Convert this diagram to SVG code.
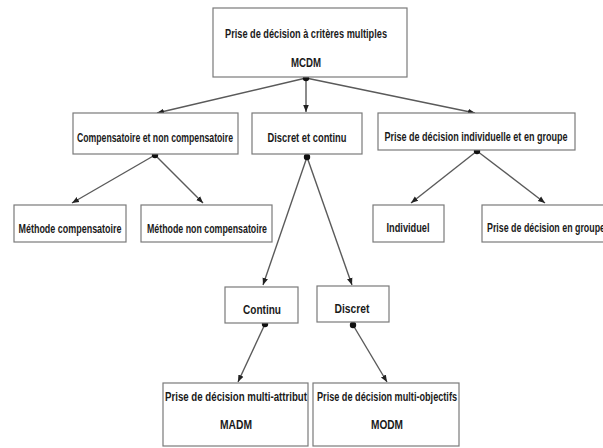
<svg xmlns="http://www.w3.org/2000/svg" width="603" height="448" viewBox="0 0 603 448">
  <style>
    .box { fill: #ffffff; stroke: #7a7a7a; stroke-width: 1.2; }
    .lbl { font-family: "Liberation Sans", "DejaVu Sans", sans-serif; font-size: 13px; font-weight: bold; fill: #1a1a1a; text-anchor: middle; }
    .lbl-start { text-anchor: start; }
    .edge { stroke: #5a5a5a; stroke-width: 1.4; fill: none; marker-end: url(#arrow); }
    .dot { fill: #111111; }
  </style>
  <defs>
    <marker id="arrow" viewBox="0 0 10 10" refX="10" refY="5" markerWidth="7" markerHeight="7" markerUnits="userSpaceOnUse" orient="auto">
      <path d="M0,1 L10,5 L0,9 Z" fill="#222222"/>
    </marker>
  </defs>
  <rect width="603" height="448" fill="#ffffff"/>

  <g id="connectors">
    <line class="edge" x1="306" y1="78" x2="157" y2="113"/>
    <line class="edge" x1="306" y1="78" x2="306" y2="112"/>
    <line class="edge" x1="306" y1="78" x2="475" y2="113"/>
    <line class="edge" x1="155" y1="155" x2="72" y2="203"/>
    <line class="edge" x1="155" y1="155" x2="203" y2="203"/>
    <line class="edge" x1="477" y1="151" x2="411" y2="203"/>
    <line class="edge" x1="477" y1="151" x2="545" y2="203"/>
    <line class="edge" x1="307" y1="157" x2="263" y2="285"/>
    <line class="edge" x1="307" y1="157" x2="352" y2="285"/>
    <line class="edge" x1="265" y1="324" x2="238" y2="382"/>
    <line class="edge" x1="353" y1="325" x2="387" y2="382"/>
    <circle class="dot" cx="306" cy="78" r="3.2"/>
    <circle class="dot" cx="155" cy="155" r="3.2"/>
    <circle class="dot" cx="307" cy="157" r="3.2"/>
    <circle class="dot" cx="477" cy="151" r="3.2"/>
    <circle class="dot" cx="265" cy="324" r="3.2"/>
    <circle class="dot" cx="353" cy="325" r="3.2"/>
  </g>

  <g id="mcdm">
    <rect class="box" x="213" y="8" width="194" height="69"/>
    <text class="lbl" x="306" y="38" textLength="162" lengthAdjust="spacingAndGlyphs">Prise de décision à critères multiples</text>
    <text class="lbl" x="306" y="67" textLength="30" lengthAdjust="spacingAndGlyphs">MCDM</text>
  </g>

  <g id="compensatoire">
    <rect class="box" x="73" y="113" width="165" height="41"/>
    <text class="lbl" x="155" y="142" textLength="156" lengthAdjust="spacingAndGlyphs">Compensatoire et non compensatoire</text>
  </g>

  <g id="discret-continu">
    <rect class="box" x="252" y="113" width="110" height="41"/>
    <text class="lbl" x="307" y="142" textLength="79" lengthAdjust="spacingAndGlyphs">Discret et continu</text>
  </g>

  <g id="individuelle-groupe">
    <rect class="box" x="378" y="113" width="197" height="37"/>
    <text class="lbl" x="476" y="141" textLength="183" lengthAdjust="spacingAndGlyphs">Prise de décision individuelle et en groupe</text>
  </g>

  <g id="methode-compensatoire">
    <rect class="box" x="14" y="205" width="112" height="37"/>
    <text class="lbl" x="70" y="233" textLength="103" lengthAdjust="spacingAndGlyphs">Méthode compensatoire</text>
  </g>

  <g id="methode-non-compensatoire">
    <rect class="box" x="141" y="205" width="131" height="37"/>
    <text class="lbl" x="207" y="233" textLength="120" lengthAdjust="spacingAndGlyphs">Méthode non compensatoire</text>
  </g>

  <g id="individuel">
    <rect class="box" x="373" y="205" width="71" height="37"/>
    <text class="lbl" x="408" y="232" textLength="43" lengthAdjust="spacingAndGlyphs">Individuel</text>
  </g>

  <g id="groupe">
    <rect class="box" x="482" y="205" width="130" height="37"/>
    <text class="lbl lbl-start" x="487" y="232" textLength="118" lengthAdjust="spacingAndGlyphs">Prise de décision en groupe</text>
  </g>

  <g id="continu">
    <rect class="box" x="225" y="287" width="73" height="36"/>
    <text class="lbl" x="262" y="314" textLength="38" lengthAdjust="spacingAndGlyphs">Continu</text>
  </g>

  <g id="discret">
    <rect class="box" x="317" y="286" width="72" height="36"/>
    <text class="lbl" x="352" y="313" textLength="35" lengthAdjust="spacingAndGlyphs">Discret</text>
  </g>

  <g id="madm">
    <rect class="box" x="163" y="383" width="145" height="63"/>
    <text class="lbl" x="236" y="401" textLength="142" lengthAdjust="spacingAndGlyphs">Prise de décision multi-attribut</text>
    <text class="lbl" x="236" y="429" textLength="32" lengthAdjust="spacingAndGlyphs">MADM</text>
  </g>

  <g id="modm">
    <rect class="box" x="313" y="383" width="146" height="63"/>
    <text class="lbl" x="387" y="401" textLength="140" lengthAdjust="spacingAndGlyphs">Prise de décision multi-objectifs</text>
    <text class="lbl" x="387" y="429" textLength="32" lengthAdjust="spacingAndGlyphs">MODM</text>
  </g>
</svg>
